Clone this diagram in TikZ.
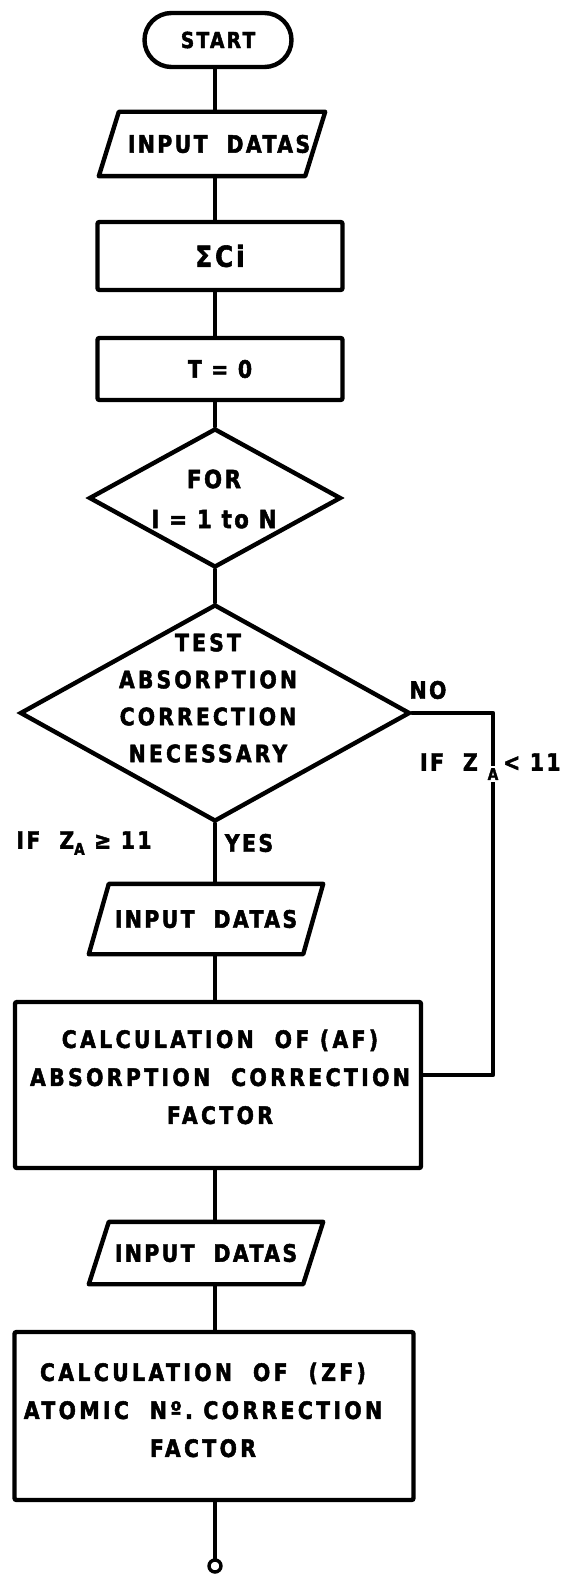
\documentclass[tikz,border=0pt]{standalone}
\usepackage{fontspec}
\setmainfont{DejaVu Sans}
\newfontfamily\fcfont{DejaVu Sans}[FakeStretch=0.85, LetterSpace=10, BoldFeatures={FakeBold=2}]
\newfontfamily\fcwide{DejaVu Sans}[FakeStretch=0.85, LetterSpace=13, BoldFeatures={FakeBold=2}]
\newfontfamily\fcwider{DejaVu Sans}[FakeStretch=0.85, LetterSpace=14, BoldFeatures={FakeBold=2}]
\usetikzlibrary{shapes.geometric}
\begin{document}
\begin{tikzpicture}[x=1pt,y=-1pt,
  every node/.style={font=\fcfont\bfseries\fontsize{24}{37}\selectfont, inner sep=0pt},
  boxtext/.style={align=center, font=\fcwider\bfseries\fontsize{24}{38}\selectfont},
  flow/.style={line width=4.4pt, line cap=round, line join=round},
  procbox/.style={draw, line width=4.4pt, rounded corners=2pt, align=center},
  iobox/.style={align=center, minimum height=64pt},
  decision/.style={draw, diamond, line width=4.4pt},
  term/.style={draw, line width=4.4pt, rounded corners=27pt},
  lbl/.style={inner sep=0pt}]
\useasboundingbox (0,0) rectangle (560,1578);
\coordinate (axis) at (215,0);

% nodes
\node[term, minimum width=147pt, minimum height=54pt, font=\fcfont\bfseries\fontsize{22}{24}\selectfont] (start) at (218,40) {START};
\node[iobox, minimum width=206pt] (in1) at (212,144) {};
\node (in1text) at (219,144) {INPUT\ \ DATAS};
\node[procbox, minimum width=245pt, minimum height=68pt, font=\fcfont\bfseries\fontsize{29}{30}\selectfont] (sum) at (220,256) {ΣCi};
\node[procbox, minimum width=245pt, minimum height=62pt] (tzero) at (220,369) {T = 0};
\node[decision, minimum width=252pt, minimum height=139pt] (for) at (215,498) {};
\node[align=center, font=\fcfont\bfseries\fontsize{25}{40}\selectfont] (fortext) at (214,499) {FOR\\I = 1 to N};
\node[decision, minimum width=390pt, minimum height=217pt] (test) at (215,713) {};
\node[align=center, font=\fcwide\bfseries\fontsize{24}{37}\selectfont] (testtext) at (208,698) {TEST\\ABSORPTION\\CORRECTION\\NECESSARY};
\node[iobox, minimum width=214pt, minimum height=70pt] (in2) at (206,919) {INPUT\ \ DATAS};
\node[procbox, minimum width=406pt, minimum height=166pt] (af) at (218,1085) {};
\node[boxtext] (aftext) at (220,1077) {CALCULATION\ \ OF (AF)\\ABSORPTION\ \ CORRECTION\\FACTOR};
\node[iobox, minimum width=214pt, minimum height=62pt] (in3) at (206,1253) {INPUT\ \ DATAS};
\node[procbox, minimum width=399pt, minimum height=168pt] (zf) at (214,1416) {};
\node[boxtext] (zftext) at (203,1410) {CALCULATION\ \ OF\ \ (ZF)\\ATOMIC\ \ Nº.\ CORRECTION\\FACTOR};
\node[draw, circle, line width=3.4pt, minimum size=12pt] (endc) at (215,1566) {};

% parallelograms
\foreach \n in {in1,in2,in3}{
  \draw[flow] ([xshift=10pt]\n.north west) -- ([xshift=10pt]\n.north east)
     -- ([xshift=-10pt]\n.south east) -- ([xshift=-10pt]\n.south west) -- cycle;
}

% connectors
\draw[flow] (axis |- start.south) -- (axis |- in1.north);
\draw[flow] (axis |- in1.south) -- (axis |- sum.north);
\draw[flow] (axis |- sum.south) -- (axis |- tzero.north);
\draw[flow] (axis |- tzero.south) -- (for.north);
\draw[flow] (for.south) -- (test.north);
\draw[flow] (test.south) -- (axis |- in2.north);
\draw[flow] (axis |- in2.south) -- (axis |- af.north);
\draw[flow] (axis |- af.south) -- (axis |- in3.north);
\draw[flow] (axis |- in3.south) -- (axis |- zf.north);
\draw[flow] (axis |- zf.south) -- (endc.north);
\coordinate (loopc) at (493,1075);
\draw[flow] (test.east) -| (loopc) -- (loopc -| af.east);

% labels
\node[lbl] (no) at (428,690) {NO};
\node[lbl, anchor=east] (ifz) at (478,762) {IF\ \ Z};
\node[lbl, fill=white, inner sep=2pt, font=\fcfont\bfseries\fontsize{16}{18}\selectfont] (suba) at (493,774) {A};
\node[lbl, anchor=west] (lt) at (503,762) {< 11};
\node[lbl] (ge) at (84,843) {IF\ \ Z\raisebox{-6pt}{\fontsize{16}{18}\selectfont A}\ ≥ 11};
\node[lbl] (yes) at (249,843) {YES};
\end{tikzpicture}
\end{document}
